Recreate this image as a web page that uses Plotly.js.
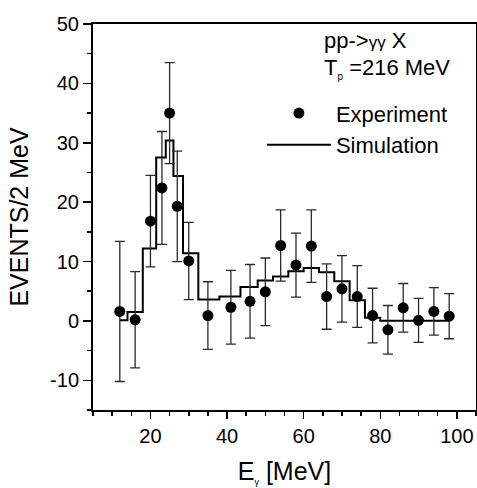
<!DOCTYPE html>
<html>
<head>
<meta charset="utf-8">
<script src="https://cdn.plot.ly/plotly-3.0.1.min.js"></script>
<style>
  html, body { margin: 0; padding: 0; background: #fff; }
  #chart { width: 477px; height: 488px; }
</style>
</head>
<body>
<div id="chart"></div>
<script>
// Experimental points (photon energy, events / 2 MeV, statistical error)
var expX   = [12, 16, 20, 23, 25, 27, 30, 35, 41, 46, 50, 54, 58, 62, 66, 70, 74, 78, 82, 86, 90, 94, 98];
var expY   = [1.6, 0.2, 16.8, 22.4, 35.0, 19.3, 10.1, 0.9, 2.3, 3.3, 4.9, 12.7, 9.4, 12.6, 4.1, 5.4, 4.1, 0.9, -1.5, 2.2, 0.1, 1.6, 0.8];
var expErr = [11.8, 8.1, 7.7, 9.5, 8.5, 9.3, 6.5, 5.7, 6.2, 6.2, 5.7, 6.0, 5.4, 6.1, 5.5, 5.6, 5.2, 4.6, 4.1, 4.1, 3.7, 4.0, 3.8];

// Simulation histogram, one level per experimental point
var simY   = [0.1, 1.5, 12.2, 27.5, 30.4, 24.4, 11.4, 3.6, 4.1, 5.7, 6.8, 7.5, 8.35, 8.9, 8.2, 6.7, 3.5, 0.55, 0.05, 0.05, 0.05, 0.05, 0.05];

// Tick labels
var xTickVals = [20, 40, 60, 80, 100];
var xTickText = ['20', '40', '60', '80', '100'];
var yTickVals = [-10, 0, 10, 20, 30, 40, 50];
var yTickText = ['-10', '0', '10', '20', '30', '40', '50'];

var FONT = 'Liberation Sans, Arial, Helvetica, sans-serif';

var simTrace = {
  x: expX, y: simY,
  type: 'scatter', mode: 'lines',
  name: 'Simulation',
  line: { shape: 'hvh', color: '#000', width: 2 },
  legendrank: 2,
  hoverinfo: 'skip'
};

var expTrace = {
  x: expX, y: expY,
  type: 'scatter', mode: 'markers',
  name: 'Experiment',
  marker: { symbol: 'circle', size: 11, color: '#000' },
  error_y: { type: 'data', array: expErr, visible: true, color: '#2a2a2a', thickness: 1.3, width: 5 },
  legendrank: 1
};

var axisCommon = {
  showgrid: false, zeroline: false,
  showline: true, linecolor: '#000', linewidth: 2, mirror: true,
  ticks: 'outside', tickcolor: '#000', tickwidth: 1.5,
  tickfont: { family: FONT, size: 20, color: '#000' }
};

var layout = {
  width: 477, height: 488,
  margin: { l: 93, r: 1, t: 24, b: 78 },
  paper_bgcolor: '#fff', plot_bgcolor: '#fff',
  font: { family: FONT, color: '#000' },
  showlegend: true,
  legend: {
    x: 0.441, y: 0.823, xanchor: 'left', yanchor: 'top',
    bgcolor: 'rgba(0,0,0,0)', borderwidth: 0,
    font: { family: FONT, size: 22, color: '#000' },
    itemwidth: 64, tracegroupgap: 0
  },
  xaxis: Object.assign({}, axisCommon, {
    range: [5, 105],
    tickmode: 'array', tickvals: xTickVals, ticktext: xTickText,
    ticklen: 7,
    minor: { dtick: 5, tick0: 0, ticks: 'outside', ticklen: 4, tickcolor: '#000', tickwidth: 1.5 },
    title: { text: 'E<sub><span style="font-size:9px">γ</span></sub> [MeV]', font: { family: FONT, size: 25, color: '#000' }, standoff: 16 }
  }),
  yaxis: Object.assign({}, axisCommon, {
    range: [-15, 50],
    tickmode: 'array', tickvals: yTickVals, ticktext: yTickText,
    ticklen: 8,
    minor: { dtick: 5, tick0: 0, ticks: 'outside', ticklen: 4, tickcolor: '#000', tickwidth: 1.5 },
    title: { text: 'EVENTS/2 MeV', font: { family: FONT, size: 25, color: '#000' }, standoff: 14 }
  }),
  annotations: [
    { xref: 'paper', yref: 'paper', x: 0.598, y: 0.957, xanchor: 'left', yanchor: 'middle',
      text: 'pp-><span style="font-size:17px">γγ</span> X', showarrow: false,
      font: { family: FONT, size: 22, color: '#000' } },
    { xref: 'paper', yref: 'paper', x: 0.598, y: 0.885, xanchor: 'left', yanchor: 'middle',
      text: 'T<sub><span style="font-size:10px">p</span></sub> =216 MeV', showarrow: false,
      font: { family: FONT, size: 22, color: '#000' } }
  ]
};

Plotly.newPlot('chart', [simTrace, expTrace], layout, { displayModeBar: false, staticPlot: true });
</script>
</body>
</html>
